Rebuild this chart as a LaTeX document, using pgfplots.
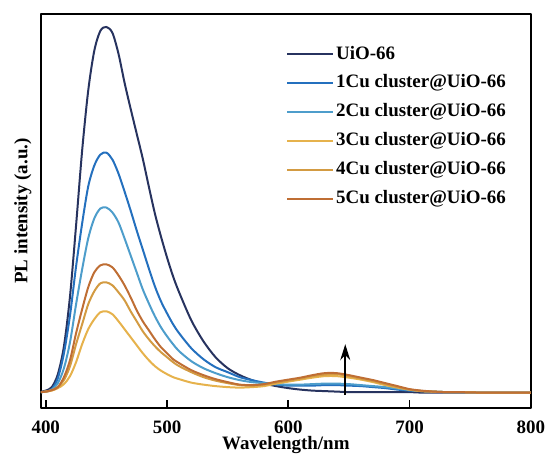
\documentclass[border=0pt]{standalone}
\usepackage{pgfplots}
\pgfplotsset{compat=1.18}
\usepackage{pgfplotstable}
\usepackage{fontspec}
\setmainfont{Liberation Serif}
\usetikzlibrary{arrows.meta}

\definecolor{cUiO}{HTML}{27335F}
\definecolor{cA}{HTML}{2470BE}
\definecolor{cB}{HTML}{4D9DCB}
\definecolor{cC}{HTML}{E6B24C}
\definecolor{cD}{HTML}{D39B42}
\definecolor{cE}{HTML}{BF6E34}

% PL spectra (arbitrary units)
\pgfplotstableread{
wl   uio   c1    c2    c3    c4    c5
396  16.5  16    16    16    16    16
400  17.5  16.5  16.5  16.5  16.5  16.5
405  21    19    18.5  17.5  18    18
410  34    30    25    20    21    21
415  62    55    40    24    28    31
420  112   93    66    32    42    48
425  183   142   104   46    64    75
430  258   185   139   64    84    99
435  318   222   170   79    104   121
440  358   243   190   89    117   136
445  378   254   200   96    125   143
450  382   256   201   97    126   144
455  376   249   196   94    123   141
460  355   235   186   87    116   133
465  326   217   170   79    108   123
470  300   198   153   71    97    111
475  275   178   136   63    87    98
480  250   159   119   55    77    87
485  222   140   105   48    69    78
490  195   122   92    42    62    69
495  172   107   81    37.5  56    61
500  151   95    72    34    51    55
505  132   84    64    31    46    49
510  116   75    57    29    42    45
520  88    60    47    25.5  36    38
530  67    49    40    23.5  31    33
540  51    41    35    22    27.5  29
550  40    36    31    21    25    26
560  33    31    28    20.5  23    23.5
570  28    28    26    21    22.5  23
580  24.5  25.5  25    22    23.5  24
590  22    23.5  24    24.5  25.5  26.5
600  20    22.5  23.5  26.5  27.5  28.5
610  18.5  22.5  23.5  28.5  29.5  30.5
620  17.5  22.5  24    30.5  32    33
630  17    23    24.5  32    33.5  35
640  16.5  23    24.5  32    34    35
650  16    22.5  24    30.5  32    33
660  16    22    23    28.5  29.5  30.5
670  16    21    22    26    27    28
680  16    20    21    23    24    25
690  16    18.5  19.5  20.5  21    22
700  16    17.5  18    18.5  18.5  19
710  15.5  17    17    17    17    17.5
720  15.5  16.5  16.5  16.5  16.5  16.5
730  15.5  16    16    16    16    16
740  15.5  16    16    16    16    16
760  15.5  15.5  15.5  15.5  15.5  15.5
780  15.5  15.5  15.5  15.5  15.5  15.5
800  15.5  15.5  15.5  15.5  15.5  15.5
}\pldata

\begin{document}
\begin{tikzpicture}[font=\fontsize{9.5}{11}\selectfont\bfseries]
\begin{axis}[
    at={(0,0)}, anchor=south west,
    scale only axis,
    width=245.5pt, height=197.5pt,
    xmin=396, xmax=800,
    ymin=0, ymax=395,
    xtick={400,500,...,800},
    ytick=\empty,
    tick align=inside,
    xtick pos=bottom,
    major tick length=4pt,
    every tick/.style={black, line width=0.9pt},
    axis line style={line width=1pt},
    /pgf/number format/assume math mode=true,
    xticklabel style={font=\fontsize{9.5}{11}\selectfont\bfseries,
        inner sep=0pt, yshift=-6pt},
    xlabel={Wavelength/nm},
    ylabel={PL intensity (a.u.)},
    xlabel style={at={(axis description cs:0.5,-0.104)}, anchor=base,
        inner sep=0pt},
    ylabel style={at={(axis description cs:-0.037,0.5)}, anchor=center,
        inner sep=0pt},
    legend style={draw=none, fill=none, at={(rel axis cs:0.50,0.925)},
        anchor=north west, row sep=4.4pt, inner sep=0pt,
        nodes={inner sep=1pt}},
    legend cell align=left,
    legend image code/.code={\draw[#1] (0pt,0pt) -- (23pt,0pt);},
    line join=round,
    every axis plot/.append style={smooth, tension=0.5, line width=1pt},
]
\addplot[cUiO] table[x=wl, y=uio] {\pldata};
\addlegendentry{UiO-66}
\addplot[cA] table[x=wl, y=c1] {\pldata};
\addlegendentry{1Cu cluster@UiO-66}
\addplot[cB] table[x=wl, y=c2] {\pldata};
\addlegendentry{2Cu cluster@UiO-66}
\addplot[cC] table[x=wl, y=c3] {\pldata};
\addlegendentry{3Cu cluster@UiO-66}
\addplot[cD] table[x=wl, y=c4] {\pldata};
\addlegendentry{4Cu cluster@UiO-66}
\addplot[cE] table[x=wl, y=c5] {\pldata};
\addlegendentry{5Cu cluster@UiO-66}
\draw[-{Stealth[length=8pt, width=5pt]}, line width=0.9pt, black]
    (axis cs:647,13) -- (axis cs:647,64);
\end{axis}
\path (-20.5pt,-23pt) rectangle (252pt,204.5pt);
\end{tikzpicture}
\end{document}
